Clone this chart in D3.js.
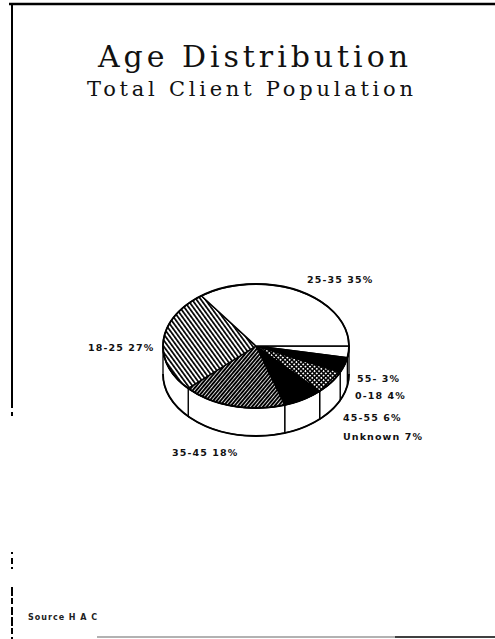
<!DOCTYPE html>
<html><head><meta charset="utf-8">
<script src="https://cdn.jsdelivr.net/npm/d3@7"></script>
<style>html,body{margin:0;padding:0;background:#fff}svg{display:block}</style>
</head><body><svg id="c" width="495" height="639"></svg>
<script>
// ---- data ----
const categories = ["55-", "0-18", "45-55", "Unknown", "35-45", "18-25", "25-35"];
const values     = [3, 4, 6, 7, 18, 27, 35];
const labelTexts = ["55- 3%", "0-18 4%", "45-55 6%", "Unknown 7%", "35-45 18%", "18-25 27%", "25-35 35%"];
const titleText = "Age Distribution";
const subtitleText = "Total Client Population";
const sourceText = "Source H A C";

// ---- layout / style ----
const fills = ["#fff", "#000", "url(#cross)", "#000", "url(#mottle)", "url(#diag)", "#fff"];
const labelXY = [[357, 382], [355, 399], [343, 421], [343, 440], [172, 456], [88, 351], [307, 283]];
const cx = 256, cy = 346, rx = 93, ry = 62, depth = 28;

const svg = d3.select("#c");
svg.append("rect").attr("width", 495).attr("height", 639).attr("fill", "#fff");

const defs = svg.append("defs");
const pd = defs.append("pattern").attr("id", "diag").attr("patternUnits", "userSpaceOnUse")
  .attr("width", 3.6).attr("height", 3.6).attr("patternTransform", "rotate(-36)");
pd.append("rect").attr("width", 3.6).attr("height", 3.6).attr("fill", "#fff");
pd.append("rect").attr("width", 1.7).attr("height", 3.6).attr("fill", "#000");

const pm = defs.append("pattern").attr("id", "mottle").attr("patternUnits", "userSpaceOnUse")
  .attr("width", 2.8).attr("height", 2.8).attr("patternTransform", "rotate(40)");
pm.append("rect").attr("width", 2.8).attr("height", 2.8).attr("fill", "#fff");
pm.append("rect").attr("width", 2.0).attr("height", 2.8).attr("fill", "#000");

const pc = defs.append("pattern").attr("id", "cross").attr("patternUnits", "userSpaceOnUse")
  .attr("width", 3.2).attr("height", 3.2).attr("patternTransform", "rotate(45)");
pc.append("rect").attr("width", 3.2).attr("height", 3.2).attr("fill", "#000");
pc.append("rect").attr("x", 0.8).attr("y", 0.8).attr("width", 1.7).attr("height", 1.7).attr("fill", "#fff");

// ---- borders ----
svg.append("line").attr("x1", 9).attr("x2", 495).attr("y1", 4).attr("y2", 4)
  .attr("stroke", "#000").attr("stroke-width", 2.5);
svg.append("line").attr("x1", 12).attr("x2", 12).attr("y1", 4).attr("y2", 408)
  .attr("stroke", "#000").attr("stroke-width", 2);
svg.append("line").attr("x1", 12).attr("x2", 12).attr("y1", 412).attr("y2", 416)
  .attr("stroke", "#000").attr("stroke-width", 2);
svg.append("line").attr("x1", 12).attr("x2", 12).attr("y1", 552).attr("y2", 570)
  .attr("stroke", "#000").attr("stroke-width", 2).attr("stroke-dasharray", "2 4 6 3");
svg.append("line").attr("x1", 12).attr("x2", 12).attr("y1", 587).attr("y2", 639)
  .attr("stroke", "#000").attr("stroke-width", 2).attr("stroke-dasharray", "9 2 6 3 8 2");
svg.append("line").attr("x1", 97).attr("x2", 395).attr("y1", 637).attr("y2", 637)
  .attr("stroke", "#999").attr("stroke-width", 1.5);
svg.append("line").attr("x1", 395).attr("x2", 495).attr("y1", 637).attr("y2", 637)
  .attr("stroke", "#000").attr("stroke-width", 1.5);

// ---- titles ----
svg.append("text").text(titleText).attr("x", 98).attr("y", 67)
  .attr("textLength", 310).attr("lengthAdjust", "spacing")
  .attr("font-family", "DejaVu Serif, serif").attr("font-size", 30).attr("fill", "#111");
svg.append("text").text(subtitleText).attr("x", 87).attr("y", 96)
  .attr("textLength", 326).attr("lengthAdjust", "spacing")
  .attr("font-family", "DejaVu Serif, serif").attr("font-size", 21).attr("fill", "#111");

// ---- pie ----
const pie = d3.pie().sort(null).startAngle(Math.PI / 2).endAngle(Math.PI / 2 + 2 * Math.PI);
const arcs = pie(values);
const P = (a, dy = 0) => [cx + rx * Math.sin(a), cy - ry * Math.cos(a) + dy];

const g = svg.append("g");
arcs.forEach((d) => {
  const b0 = Math.max(d.startAngle, Math.PI / 2), b1 = Math.min(d.endAngle, 3 * Math.PI / 2);
  if (b1 <= b0) return;
  const p0 = P(b0), p1 = P(b1), q1 = P(b1, depth), q0 = P(b0, depth);
  const path = `M${p0}A${rx},${ry} 0 0 1 ${p1}L${q1}A${rx},${ry} 0 0 0 ${q0}Z`;
  g.append("path").attr("d", path).attr("fill", "#fff").attr("stroke", "#000").attr("stroke-width", 1.3);
});
{
  const q0 = P(Math.PI / 2, depth), q1 = P(3 * Math.PI / 2, depth);
  g.append("path").attr("d", `M${q0}A${rx},${ry} 0 0 1 ${q1}`).attr("fill", "none")
    .attr("stroke", "#000").attr("stroke-width", 1.8);
}
arcs.forEach((d, i) => {
  const p0 = P(d.startAngle), p1 = P(d.endAngle);
  const large = (d.endAngle - d.startAngle) > Math.PI ? 1 : 0;
  const path = `M${cx},${cy}L${p0}A${rx},${ry} 0 ${large} 1 ${p1}Z`;
  g.append("path").attr("d", path).attr("fill", fills[i]).attr("stroke", "#000")
    .attr("stroke-width", 1.4).attr("stroke-linejoin", "round");
});
g.append("ellipse").attr("cx", cx).attr("cy", cy).attr("rx", rx).attr("ry", ry)
  .attr("fill", "none").attr("stroke", "#000").attr("stroke-width", 1.8);

arcs.forEach((d, i) => {
  svg.append("text").text(labelTexts[i]).attr("x", labelXY[i][0]).attr("y", labelXY[i][1])
    .attr("font-family", "DejaVu Sans, sans-serif").attr("font-weight", "bold")
    .attr("font-size", 9.5).attr("letter-spacing", 1.1).attr("fill", "#111");
});

svg.append("text").text(sourceText).attr("x", 28).attr("y", 620)
  .attr("font-family", "DejaVu Sans, sans-serif").attr("font-weight", "bold")
  .attr("font-size", 8).attr("letter-spacing", 1).attr("fill", "#222");
</script></body></html>
